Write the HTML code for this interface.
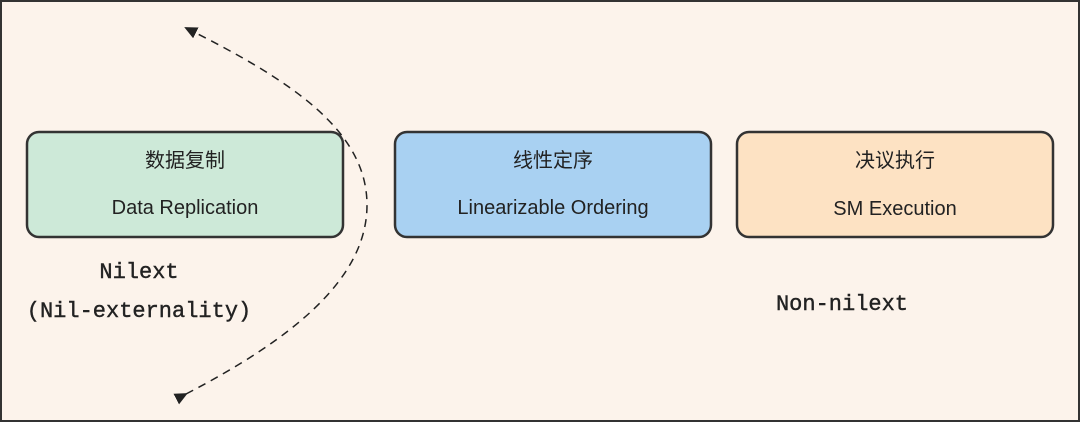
<!DOCTYPE html>
<html><head><meta charset="utf-8"><style>
html,body{margin:0;padding:0;}
body{width:1080px;height:422px;overflow:hidden;background:#fcf3eb;}
svg{display:block;}
.cn{font-family:"Liberation Sans","Noto Sans CJK SC",sans-serif;font-size:20px;fill:#222;}
.en{font-family:"Liberation Sans","Noto Sans CJK SC",sans-serif;font-size:20px;fill:#222;}
.mono{font-family:"Liberation Mono",monospace;font-size:22px;fill:#222;stroke:#222;stroke-width:0.4;}
</style></head><body>
<svg width="1080" height="422" viewBox="0 0 1080 422">
<defs><marker id="a" markerWidth="14" markerHeight="12" refX="11" refY="6" orient="auto" markerUnits="userSpaceOnUse"><path d="M0,0 L13,6 L0,12 z" fill="#222"/></marker></defs>
<rect x="1" y="1" width="1078" height="420" fill="#fcf3eb" stroke="#333" stroke-width="2"/>
<path d="M186,394 C290,340 367,280 367,205 C367,130 290,80 186,28" fill="none" stroke="#222" stroke-width="1.5" stroke-dasharray="8,6" marker-start="url(#a)" marker-end="url(#a)"/>
<rect x="27" y="132" width="316" height="105" rx="12" fill="#cde9d8" stroke="#333" stroke-width="2.5"/>
<rect x="395" y="132" width="316" height="105" rx="12" fill="#a9d1f2" stroke="#333" stroke-width="2.5"/>
<rect x="737" y="132" width="316" height="105" rx="12" fill="#fde2c3" stroke="#333" stroke-width="2.5"/>
<text class="cn" x="185" y="167" text-anchor="middle">数据复制</text>
<text class="en" x="185" y="214" text-anchor="middle">Data Replication</text>
<text class="cn" x="553" y="167" text-anchor="middle">线性定序</text>
<text class="en" x="553" y="214" text-anchor="middle">Linearizable Ordering</text>
<text class="cn" x="895" y="167" text-anchor="middle">决议执行</text>
<text class="en" x="895" y="215" text-anchor="middle">SM Execution</text>
<text class="mono" x="139" y="278" text-anchor="middle">Nilext</text>
<text class="mono" x="139" y="317" text-anchor="middle">(Nil-externality)</text>
<text class="mono" x="842" y="310" text-anchor="middle">Non-nilext</text>
</svg>
</body></html>
